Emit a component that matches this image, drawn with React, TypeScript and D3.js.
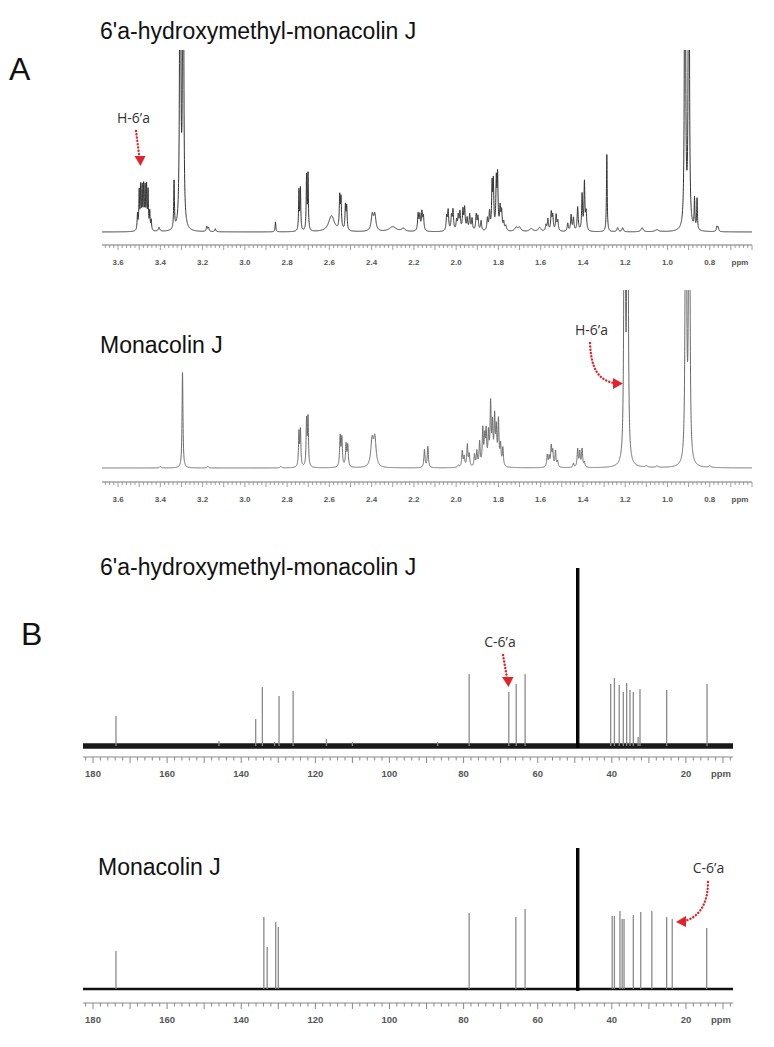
import React, { useMemo } from 'react';
import * as d3 from 'd3';

type Peak = [number, number, number]; // ppm, height, half-width (ppm)
type Line = [number, number]; // ppm, height

// ---- A: 1H NMR, 6'a-hydroxymethyl-monacolin J ----
const hydroxyProtonPeaks: Peak[] = [
  [3.508, 16, 0.002], [3.5, 38, 0.002], [3.493, 42, 0.002], [3.486, 40, 0.002], [3.479, 42, 0.002],
  [3.472, 40, 0.002], [3.465, 42, 0.002], [3.458, 38, 0.002], [3.45, 18, 0.002], [3.443, 10, 0.002],
  [3.406, 4, 0.004], [3.335, 48, 0.002], [3.306, 800, 0.0018], [3.292, 800, 0.0018],
  [3.18, 5, 0.003], [3.172, 4, 0.003], [3.14, 3, 0.003], [2.855, 10, 0.002],
  [2.744, 40, 0.002], [2.737, 42, 0.002], [2.708, 54, 0.002], [2.701, 56, 0.002],
  [2.59, 16, 0.016],
  [2.551, 32, 0.0025], [2.545, 30, 0.0025], [2.524, 24, 0.0025], [2.518, 23, 0.0025],
  [2.397, 16, 0.006], [2.385, 16, 0.006], [2.3, 5, 0.02], [2.25, 3, 0.01],
  [2.18, 17, 0.003], [2.172, 15, 0.003], [2.162, 18, 0.003], [2.155, 14, 0.003],
  [2.045, 14, 0.003], [2.038, 20, 0.003], [2.022, 14, 0.003], [2.015, 20, 0.003], [1.998, 10, 0.003],
  [1.99, 14, 0.003], [1.982, 18, 0.003], [1.968, 20, 0.003], [1.96, 22, 0.003], [1.948, 12, 0.003],
  [1.936, 16, 0.003], [1.925, 12, 0.003], [1.905, 16, 0.003], [1.897, 14, 0.003], [1.882, 10, 0.003],
  [1.852, 12, 0.003], [1.842, 18, 0.003], [1.83, 44, 0.0025], [1.824, 46, 0.0025], [1.81, 48, 0.0025],
  [1.804, 52, 0.0025], [1.792, 22, 0.003], [1.785, 18, 0.003], [1.775, 8, 0.003], [1.765, 5, 0.004],
  [1.716, 4, 0.008], [1.7, 4, 0.008], [1.645, 3, 0.01], [1.605, 4, 0.008],
  [1.575, 6, 0.003], [1.566, 12, 0.003], [1.55, 18, 0.003], [1.543, 15, 0.003], [1.527, 16, 0.003],
  [1.519, 10, 0.003],
  [1.472, 8, 0.003], [1.456, 16, 0.003], [1.445, 13, 0.003], [1.425, 24, 0.003], [1.404, 36, 0.0025],
  [1.393, 48, 0.0025], [1.385, 18, 0.003],
  [1.287, 78, 0.002], [1.236, 4, 0.004], [1.212, 4, 0.004], [1.12, 4, 0.006], [1.05, 2, 0.01],
  [0.917, 800, 0.0018], [0.899, 800, 0.0018], [0.872, 30, 0.002], [0.86, 31, 0.002],
  [0.766, 5, 0.003], [0.76, 4, 0.003],
];

// ---- A: 1H NMR, Monacolin J ----
const monacolinProtonPeaks: Peak[] = [
  [3.295, 96, 0.0025], [3.4, 1.5, 0.004], [3.175, 1.5, 0.004], [2.83, 1.5, 0.004],
  [2.744, 34, 0.0025], [2.737, 36, 0.0025], [2.708, 46, 0.0025], [2.701, 48, 0.0025],
  [2.549, 30, 0.003], [2.541, 28, 0.003], [2.521, 22, 0.003], [2.513, 21, 0.003],
  [2.398, 26, 0.007], [2.385, 28, 0.007],
  [2.15, 18, 0.003], [2.134, 21, 0.003], [1.99, 2, 0.005],
  [1.971, 16, 0.003], [1.962, 10, 0.003], [1.947, 22, 0.003], [1.938, 12, 0.003], [1.913, 12, 0.003],
  [1.902, 15, 0.003], [1.889, 24, 0.003], [1.874, 36, 0.003], [1.865, 26, 0.003], [1.858, 32, 0.003],
  [1.847, 30, 0.003], [1.837, 60, 0.003], [1.828, 38, 0.003], [1.818, 46, 0.003], [1.81, 34, 0.003],
  [1.8, 44, 0.003], [1.79, 20, 0.003], [1.779, 18, 0.003],
  [1.569, 12, 0.003], [1.56, 10, 0.003], [1.55, 20, 0.003], [1.543, 15, 0.003], [1.53, 16, 0.003],
  [1.52, 6, 0.003],
  [1.445, 4, 0.003], [1.425, 18, 0.003], [1.415, 15, 0.003], [1.404, 18, 0.003], [1.393, 5, 0.003],
  [1.203, 900, 0.002], [1.189, 900, 0.002], [1.1, 1.5, 0.006], [1.05, 1.5, 0.006],
  [0.913, 900, 0.002], [0.897, 900, 0.002], [0.8, 1.5, 0.006],
];

const protonTickLabels = [3.6, 3.4, 3.2, 3.0, 2.8, 2.6, 2.4, 2.2, 2.0, 1.8, 1.6, 1.4, 1.2, 1.0, 0.8];

// ---- B: 13C NMR ----
const hydroxyCarbonPeaks: Line[] = [
  [173.8, 30], [146, 5], [136.1, 27], [134.3, 59], [131, 4], [129.8, 50], [126.0, 55], [117.0, 7],
  [110, 4], [87, 4], [78.5, 72], [67.8, 54], [65.8, 62], [63.4, 72], [40.3, 62], [39.3, 68],
  [38.0, 61], [36.9, 54], [36.0, 63], [35.1, 56], [34.2, 54], [32.9, 9], [32.4, 57], [25.2, 56],
  [14.3, 62],
];
const monacolinCarbonPeaks: Line[] = [
  [173.8, 38], [133.9, 72], [133.0, 42], [130.7, 67], [130.0, 62], [78.5, 76], [65.9, 72], [63.4, 80],
  [39.9, 73], [39.3, 73], [37.8, 78], [37.2, 70], [36.7, 70], [34.2, 74], [32.2, 77], [29.2, 78],
  [25.2, 72], [23.7, 70], [14.4, 61],
];
const solventCarbonShifts = [48.9, 49.1, 49.3, 49.5];
const hydroxySolventHeight = 178;
const monacolinSolventHeight = 141;
const carbonTickLabels = [180, 160, 140, 120, 100, 80, 60, 40, 20];

const hydroxyTitle = "6'a-hydroxymethyl-monacolin J";
const monacolinTitle = 'Monacolin J';
const protonLabel = 'H-6\u2019a';
const carbonLabel = 'C-6\u2019a';

const RED = '#e3232c';
const SANS = '"Liberation Sans", Arial, sans-serif';
const LABEL_FONT = '"Open Sans", "Noto Sans", sans-serif';

function lineShape(peaks: Peak[], from: number, to: number, step: number): [number, number][] {
  const pts: [number, number][] = [];
  for (let p = from; p >= to; p -= step) {
    let s = 0;
    for (const [c, h, w] of peaks) {
      const u = (p - c) / w;
      s += h / (1 + u * u);
    }
    pts.push([p, s]);
  }
  return pts;
}

const xH = d3.scaleLinear().domain([3.676, 0.6]).range([102, 752]);
const xC = d3.scaleLinear().domain([182.7, 7.3]).range([83, 733]);

function ProtonPanel({ peaks, base, top, axisY, color, id }: { peaks: Peak[]; base: number; top: number; axisY: number; color: string; id: string }) {
  const y = d3.scaleLinear().domain([0, base - top]).range([base, top]);
  const d = useMemo(() => {
    const pts = lineShape(peaks, 3.676, 0.6, 0.0004);
    return d3.line<[number, number]>().x((p) => xH(p[0])).y((p) => y(p[1]))(pts) || '';
  }, [peaks, base, top]);
  const ticks = d3.range(31, 184).map((i) => i / 50);
  return (
    <g>
      <clipPath id={id}>
        <rect x={0} y={top} width={774} height={base - top + 10} />
      </clipPath>
      <path d={d} fill="none" stroke={color} strokeWidth={1} clipPath={`url(#${id})`} />
      <line x1={xH.range()[0]} x2={xH.range()[1]} y1={axisY} y2={axisY} stroke="#777" strokeWidth={1} />
      {ticks.map((t, i) => {
        const major = Math.round(t * 50) % 5 === 0;
        return <line key={i} x1={xH(t)} x2={xH(t)} y1={axisY} y2={axisY + (major ? 5 : 3)} stroke="#888" strokeWidth={0.8} />;
      })}
      <line x1={xH.range()[1]} x2={xH.range()[1]} y1={axisY} y2={axisY + 5} stroke="#888" strokeWidth={0.8} />
      {protonTickLabels.map((t) => (
        <text key={t} x={xH(t)} y={axisY + 20} textAnchor="middle" fontFamily={SANS} fontWeight="bold" fontSize={8} fill="#555">
          {t.toFixed(1)}
        </text>
      ))}
      <text x={740} y={axisY + 20} textAnchor="middle" fontFamily={SANS} fontWeight="bold" fontSize={8} fill="#555">ppm</text>
    </g>
  );
}

function CarbonPanel({ peaks, solventHeight, base, axisY, noise }: { peaks: Line[]; solventHeight: number; base: number; axisY: number; noise: boolean }) {
  const y = d3.scaleLinear().domain([0, 100]).range([base, base - 100]);
  const ticks = d3.range(4, 92).map((i) => i * 2);
  return (
    <g>
      <line x1={xC.range()[0]} x2={xC.range()[1]} y1={base} y2={base} stroke={noise ? '#1a1a1a' : '#111'} strokeWidth={noise ? 5.5 : 2.6} />
      {peaks.map(([p, h], i) => (
        <line key={i} x1={xC(p)} x2={xC(p)} y1={y(0)} y2={y(h)} stroke="#8a8a8a" strokeWidth={1.3} />
      ))}
      {solventCarbonShifts.map((p, i) => (
        <line key={'s' + i} x1={xC(p)} x2={xC(p)} y1={y(0) + 2} y2={y(solventHeight)} stroke="#000" strokeWidth={1.2} />
      ))}
      <line x1={xC.range()[0]} x2={xC.range()[1]} y1={axisY} y2={axisY} stroke="#888" strokeWidth={1} />
      {ticks.map((t) => (
        <line key={t} x1={xC(t)} x2={xC(t)} y1={axisY} y2={axisY + (t % 10 === 0 ? 6 : 3.5)} stroke="#888" strokeWidth={1} />
      ))}
      {carbonTickLabels.map((t) => (
        <text key={t} x={xC(t)} y={axisY + 20} textAnchor="middle" fontFamily={SANS} fontWeight="bold" fontSize={9.5} fill="#555">
          {t}
        </text>
      ))}
      <text x={721} y={axisY + 20} textAnchor="middle" fontFamily={SANS} fontWeight="bold" fontSize={9.5} fill="#555">ppm</text>
    </g>
  );
}

function Arrow({ d, head }: { d: string; head: string }) {
  return (
    <g>
      <path d={d} fill="none" stroke={RED} strokeWidth={2.4} strokeDasharray="0.1 3.2" strokeLinecap="round" />
      <polygon points={head} fill={RED} />
    </g>
  );
}

export default function App() {
  return (
    <svg width={774} height={1047} viewBox="0 0 774 1047" style={{ position: 'absolute', left: 0, top: 0, background: '#fff' }}>
      <rect x={0} y={0} width={774} height={1047} fill="#fff" />
      {/* Panel letters */}
      <text x={9} y={80} fontFamily={SANS} fontSize={32} fill="#111">A</text>
      <text x={21} y={645} fontFamily={SANS} fontSize={32} fill="#111">B</text>

      {/* Titles */}
      <text x={100} y={39} fontFamily={SANS} fontSize={23} fill="#111">{hydroxyTitle}</text>
      <text x={100} y={353} fontFamily={SANS} fontSize={23} fill="#111">{monacolinTitle}</text>
      <text x={100} y={575} fontFamily={SANS} fontSize={23} fill="#111">{hydroxyTitle}</text>
      <text x={98} y={875} fontFamily={SANS} fontSize={23} fill="#111">{monacolinTitle}</text>

      {/* A: 1H spectra */}
      <ProtonPanel peaks={hydroxyProtonPeaks} base={232} top={50} axisY={245} color="#333" id="clipA1" />
      <ProtonPanel peaks={monacolinProtonPeaks} base={468} top={290} axisY={482} color="#6a6a6a" id="clipA2" />

      {/* B: 13C spectra */}
      <CarbonPanel peaks={hydroxyCarbonPeaks} solventHeight={hydroxySolventHeight} base={746} axisY={757} noise={true} />
      <CarbonPanel peaks={monacolinCarbonPeaks} solventHeight={monacolinSolventHeight} base={989} axisY={1003} noise={false} />

      {/* Annotations */}
      <text x={133.5} y={123} textAnchor="middle" fontFamily={LABEL_FONT} fontSize={14} fill="#333">{protonLabel}</text>
      <Arrow d="M136,131 L139.5,158" head="134.5,156 140.5,166 145.5,156" />

      <text x={591.5} y={335} textAnchor="middle" fontFamily={LABEL_FONT} fontSize={14} fill="#333">{protonLabel}</text>
      <Arrow d="M590,343 C591,368 598,380 614,383" head="613,378 623,383.5 613,389" />

      <text x={500} y={647} textAnchor="middle" fontFamily={LABEL_FONT} fontSize={14} fill="#333">{carbonLabel}</text>
      <Arrow d="M503,655 L507,678" head="502,677 508.5,687 513.5,677" />

      <text x={708.5} y={873} textAnchor="middle" fontFamily={LABEL_FONT} fontSize={14} fill="#333">{carbonLabel}</text>
      <Arrow d="M708,882 C708,905 698,918 684,921" head="686,916 676,922 686,927" />
    </svg>
  );
}
